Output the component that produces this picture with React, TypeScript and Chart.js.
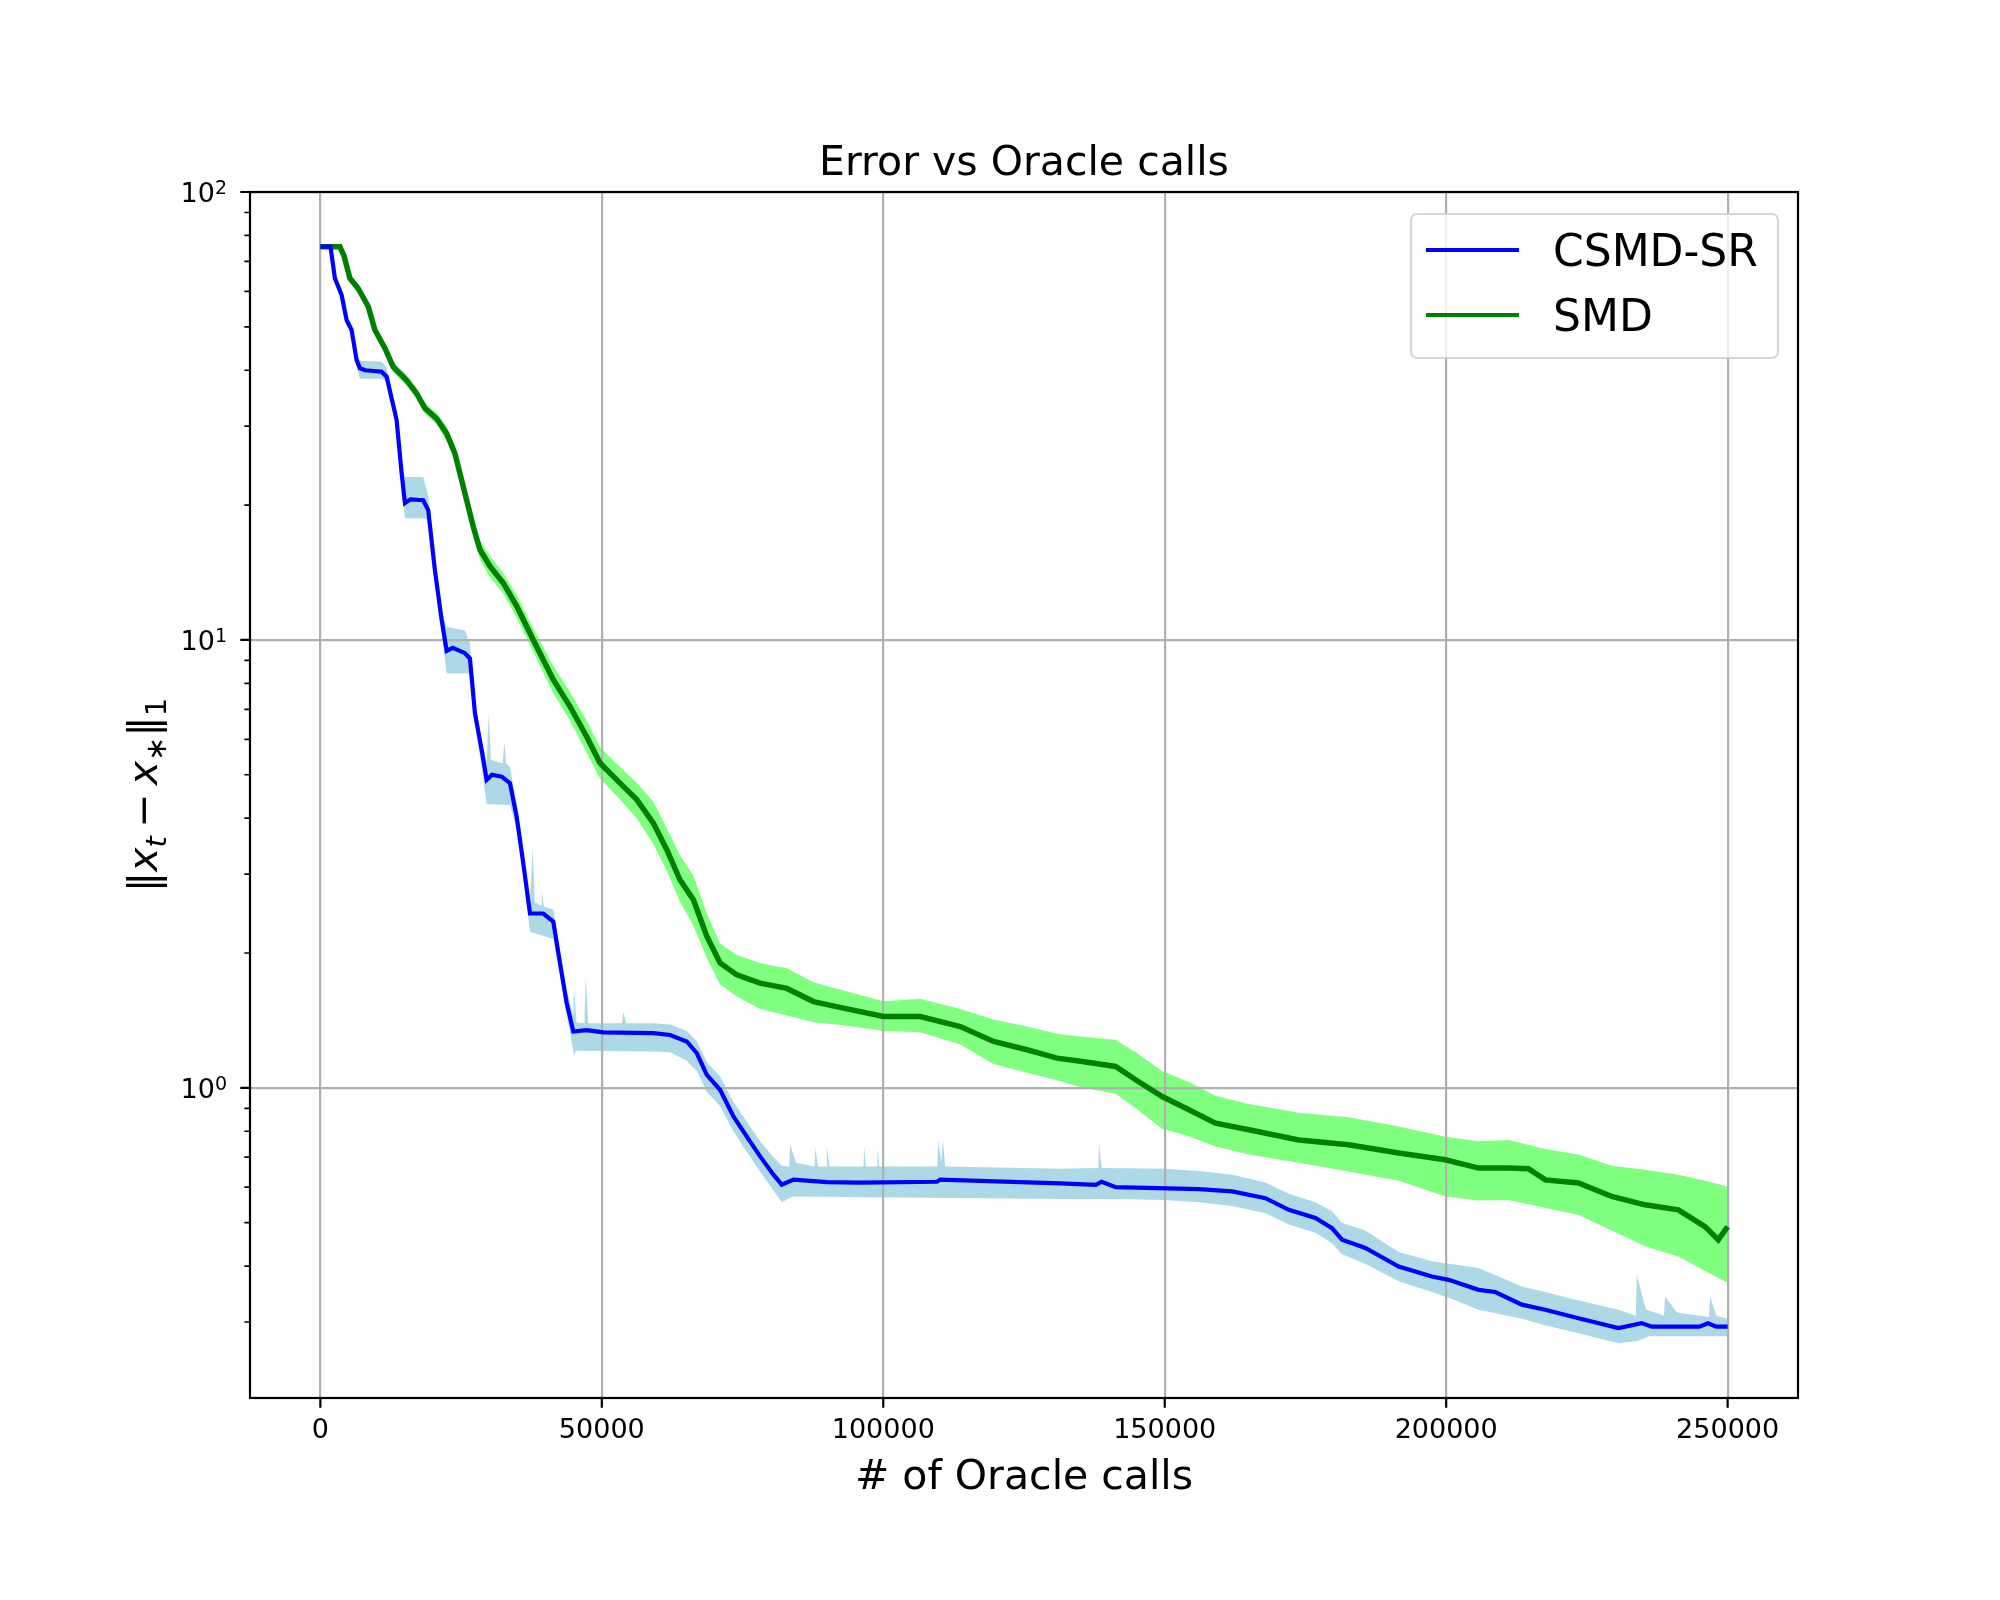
import React, { useEffect, useRef } from 'react';
import Chart from 'chart.js/auto';

// [oracle calls, ||x_t - x_*||_1]
const csmdMean: [number, number][] = [
  [0, 75.5], [1800, 75.5], [2580, 64.2], [3770, 58.9], [4660, 51.8], [5550, 49.2],
  [6430, 42.2], [7020, 40.4], [8000, 40.0], [10880, 39.7], [11770, 38.7], [13540, 31.0],
  [14430, 23.6], [15020, 20.2], [16000, 20.6], [18270, 20.5], [19160, 19.5], [20350, 14.3],
  [21540, 11.1], [22430, 9.45], [23500, 9.6], [25690, 9.34], [26570, 9.09], [27460, 6.86],
  [28650, 5.68], [29540, 4.87], [30500, 5.0], [32210, 4.95], [33680, 4.79], [34870, 4.03],
  [36050, 3.17], [37240, 2.45], [39600, 2.45], [41380, 2.35], [42570, 1.9], [43760, 1.545],
  [44940, 1.336], [47320, 1.345], [50270, 1.33], [59160, 1.325], [62120, 1.312], [65090, 1.269],
  [66870, 1.195], [68650, 1.069], [71010, 0.99], [73380, 0.863], [75760, 0.778], [78120, 0.703],
  [80490, 0.64], [81970, 0.608], [84040, 0.624], [89980, 0.616], [96000, 0.614], [109530, 0.617],
  [110120, 0.624], [120000, 0.618], [131450, 0.612], [137740, 0.607], [138800, 0.617], [141280, 0.6],
  [156070, 0.594], [161980, 0.587], [167900, 0.567], [172030, 0.534], [176770, 0.512], [179720, 0.486],
  [181490, 0.458], [185640, 0.439], [191560, 0.399], [197460, 0.379], [200440, 0.3726], [205760, 0.354],
  [208720, 0.35], [213450, 0.328], [217590, 0.3195], [223500, 0.306], [230600, 0.2907], [234730, 0.2983],
  [236500, 0.293], [245000, 0.293], [246500, 0.298], [248000, 0.293], [250000, 0.293],
];

const csmdUpper: [number, number][] = [
  [0, 75.5], [1800, 76.3], [2580, 65.5], [3770, 60.5], [4660, 53], [5550, 50.5], [6430, 43.5],
  [7020, 42], [10880, 41.8], [11770, 40.5], [13540, 32], [14430, 24.5], [15020, 23.1], [18270, 23.1],
  [19160, 21], [20350, 15], [21540, 11.6], [22430, 10.7], [25690, 10.5], [26570, 9.8], [27460, 7.2],
  [28650, 6.0], [29540, 5.31], [29900, 6.8], [30300, 5.4], [32400, 5.3], [32670, 5.93], [33000, 5.3],
  [33680, 5.2], [34870, 4.3], [36050, 3.35], [37240, 2.6], [37700, 3.43], [38100, 2.6], [39200, 2.55],
  [39320, 2.74], [39700, 2.54], [41380, 2.5], [42570, 2.02], [43760, 1.65], [44940, 1.45], [45060, 1.667],
  [45500, 1.4], [46900, 1.394], [47140, 1.757], [47600, 1.394], [53600, 1.394], [53820, 1.48],
  [54300, 1.394], [59160, 1.394], [62120, 1.385], [65090, 1.34], [66870, 1.27], [68650, 1.14],
  [71010, 1.06], [73380, 0.93], [75760, 0.84], [78120, 0.76], [80490, 0.7], [81970, 0.67],
  [83300, 0.667], [83450, 0.746], [84500, 0.68], [87800, 0.667], [87900, 0.737], [88400, 0.667],
  [89900, 0.667], [89980, 0.737], [90500, 0.667], [96500, 0.667], [96600, 0.74], [96900, 0.667],
  [98900, 0.667], [98970, 0.735], [99300, 0.667], [109600, 0.667], [109800, 0.766], [110300, 0.68],
  [110600, 0.766], [111000, 0.667], [131450, 0.66], [138200, 0.662], [138330, 0.752], [138800, 0.662],
  [150000, 0.66], [156070, 0.652], [161980, 0.64], [167900, 0.615], [172030, 0.58], [176770, 0.555],
  [179720, 0.53], [181490, 0.5], [185640, 0.48], [191560, 0.43], [197460, 0.41], [200440, 0.405],
  [205760, 0.396], [213450, 0.36], [217590, 0.35], [223500, 0.335], [230600, 0.3195], [233700, 0.31],
  [233850, 0.382], [235500, 0.32], [238700, 0.31], [238880, 0.342], [241000, 0.315], [246700, 0.308],
  [246870, 0.342], [248000, 0.31], [250000, 0.305],
];

const csmdLower: [number, number][] = [
  [0, 75.5], [1800, 74.7], [2580, 63], [3770, 57.5], [4660, 50.5], [5550, 48], [6430, 41],
  [7020, 38.3], [10880, 38.3], [11770, 37.8], [13540, 30], [14430, 22.5], [15020, 18.7], [18270, 18.7],
  [19160, 18.5], [20350, 13.8], [21540, 10.5], [22430, 8.43], [25690, 8.43], [26570, 8.4], [27460, 6.5],
  [28650, 5.2], [29540, 4.3], [33680, 4.28], [34870, 3.8], [36050, 3.0], [37240, 2.23], [41380, 2.15],
  [42570, 1.78], [43760, 1.45], [44940, 1.21], [45100, 1.18], [45400, 1.21], [59160, 1.205],
  [62120, 1.2], [65090, 1.15], [66870, 1.09], [68650, 0.98], [71010, 0.91], [73380, 0.8], [75760, 0.72],
  [78120, 0.65], [80490, 0.59], [81970, 0.555], [83000, 0.565], [84040, 0.572], [131450, 0.565],
  [141280, 0.565], [150000, 0.562], [156070, 0.555], [161980, 0.545], [167900, 0.525], [172030, 0.495],
  [176770, 0.475], [179720, 0.45], [181490, 0.425], [185640, 0.405], [191560, 0.37], [197460, 0.35],
  [200440, 0.34], [205760, 0.3195], [213450, 0.305], [217590, 0.295], [223500, 0.283], [230600, 0.269],
  [234000, 0.272], [236000, 0.279], [250000, 0.279],
];

const smdMean: [number, number][] = [
  [0, 75.5], [3466, 75.5], [4200, 72], [5240, 64.2], [6720, 60.9], [8500, 55.5], [9690, 49.2],
  [11470, 44.8], [12940, 40.7], [15320, 38.0], [17100, 35.5], [18580, 32.9], [20650, 31.2],
  [22430, 28.9], [23900, 26.1], [25380, 22.0], [27160, 17.9], [28350, 15.9], [30130, 14.6],
  [32490, 13.4], [34870, 11.9], [37830, 10.0], [41380, 8.15], [44350, 7.1], [47320, 6.08],
  [49680, 5.31], [53240, 4.79], [56200, 4.4], [59160, 3.9], [61540, 3.4], [63900, 2.91],
  [66270, 2.63], [68650, 2.18], [71010, 1.9], [73980, 1.787], [78120, 1.713], [82870, 1.667],
  [87600, 1.558], [92930, 1.506], [100040, 1.443], [106560, 1.443], [113670, 1.37], [119590, 1.269],
  [125520, 1.216], [130860, 1.165], [135360, 1.145], [141280, 1.116], [144830, 1.042], [149550, 0.956],
  [154290, 0.893], [159020, 0.834], [164940, 0.806], [173810, 0.765], [182680, 0.746], [191560, 0.715],
  [199850, 0.691], [205760, 0.662], [211080, 0.662], [214630, 0.66], [217590, 0.623], [223500, 0.613],
  [229410, 0.572], [235330, 0.548], [241240, 0.534], [245980, 0.49], [248330, 0.458], [250000, 0.49],
];

const smdUpper: [number, number][] = [
  [0, 75.5], [3466, 76.3], [4200, 73], [5240, 65.8], [6720, 62.3], [8500, 57], [9690, 50.5],
  [11470, 46], [12940, 41.8], [15320, 39], [17100, 36.5], [18580, 33.8], [20650, 32.1], [22430, 30],
  [23900, 27.2], [25380, 23], [27160, 18.8], [28350, 16.7], [30130, 15.4], [32490, 14.1], [34870, 12.6],
  [37830, 10.6], [41380, 8.75], [44350, 7.65], [47320, 6.6], [49680, 5.75], [53240, 5.2], [56200, 4.8],
  [59160, 4.35], [61540, 3.8], [63900, 3.3], [66270, 2.98], [68650, 2.45], [71010, 2.1], [73980, 1.98],
  [78120, 1.9], [82870, 1.85], [87600, 1.72], [92930, 1.65], [100040, 1.56], [106560, 1.58],
  [113670, 1.5], [119590, 1.42], [125520, 1.37], [130860, 1.32], [135360, 1.3], [141280, 1.28],
  [144830, 1.2], [149550, 1.09], [154290, 1.03], [159020, 0.96], [164940, 0.92], [173810, 0.88],
  [182680, 0.86], [191560, 0.82], [199850, 0.778], [205760, 0.76], [211080, 0.765], [217590, 0.73],
  [223500, 0.71], [229410, 0.67], [235330, 0.656], [241240, 0.64], [245980, 0.62], [250000, 0.602],
];

const smdLower: [number, number][] = [
  [0, 75.5], [3466, 74.7], [4200, 71], [5240, 62.6], [6720, 59.5], [8500, 54], [9690, 48],
  [11470, 43.6], [12940, 39.6], [15320, 37], [17100, 34.5], [18580, 32], [20650, 30.3], [22430, 27.8],
  [23900, 25], [25380, 21], [27160, 17], [28350, 15.1], [30130, 13.8], [32490, 12.7], [34870, 11.2],
  [37830, 9.4], [41380, 7.6], [44350, 6.6], [47320, 5.6], [49680, 4.9], [53240, 4.4], [56200, 4.0],
  [59160, 3.5], [61540, 3.05], [63900, 2.6], [66270, 2.3], [68650, 1.95], [71010, 1.7], [73980, 1.6],
  [78120, 1.5], [82870, 1.45], [87600, 1.4], [92930, 1.38], [100040, 1.34], [106560, 1.33],
  [113670, 1.25], [119590, 1.13], [125520, 1.08], [130860, 1.04], [135360, 1.0], [141280, 0.97],
  [144830, 0.9], [149550, 0.81], [154290, 0.78], [159020, 0.74], [164940, 0.71], [173810, 0.68],
  [182680, 0.65], [191560, 0.62], [199850, 0.572], [205760, 0.56], [211080, 0.562], [217590, 0.54],
  [223500, 0.52], [229410, 0.48], [235330, 0.443], [241240, 0.42], [245980, 0.39], [250000, 0.367],
];

const seriesNames = ['CSMD-SR', 'SMD'];
const xTickValues = [0, 50000, 100000, 150000, 200000, 250000];
const yTickValues = [
  0.3, 0.4, 0.5, 0.6, 0.7, 0.8, 0.9, 1, 2, 3, 4, 5, 6, 7, 8, 9,
  10, 20, 30, 40, 50, 60, 70, 80, 90, 100,
];
const yMajorTicks = [1, 10, 100];
const yMajorExponents = ['0', '1', '2'];

const FONT = '"DejaVu Sans"';
const LINE_COLORS = ['#0000ff', '#008000'];
const BAND_COLORS = ['#add8e6', '#80ff80'];

const pts = (arr: [number, number][]) => arr.map(([x, y]) => ({ x, y }));

// title, axis labels, tick marks, frame and legend, drawn like matplotlib does
const decorPlugin = {
  id: 'decor',
  afterDraw(chart: any) {
    const { ctx, chartArea: a, scales } = chart;
    ctx.save();
    ctx.strokeStyle = '#000';
    ctx.lineWidth = 2.2;
    ctx.beginPath();
    xTickValues.forEach((v) => {
      const px = scales.x.getPixelForValue(v);
      ctx.moveTo(px, a.bottom);
      ctx.lineTo(px, a.bottom + 9.7);
    });
    yMajorTicks.forEach((v) => {
      const py = scales.y.getPixelForValue(v);
      ctx.moveTo(a.left - 9.7, py);
      ctx.lineTo(a.left, py);
    });
    ctx.stroke();
    ctx.lineWidth = 1.7;
    ctx.beginPath();
    yTickValues.filter((v) => !yMajorTicks.includes(v)).forEach((v) => {
      const py = scales.y.getPixelForValue(v);
      ctx.moveTo(a.left - 5.6, py);
      ctx.lineTo(a.left, py);
    });
    ctx.stroke();

    ctx.lineWidth = 2.2;
    ctx.strokeRect(a.left, a.top, a.right - a.left, a.bottom - a.top);

    // y tick labels 10^k
    ctx.fillStyle = '#000';
    ctx.textAlign = 'right';
    ctx.textBaseline = 'alphabetic';
    yMajorTicks.forEach((v, i) => {
      const py = scales.y.getPixelForValue(v);
      const right = a.left - 23;
      ctx.font = `19px ${FONT}`;
      const ew = ctx.measureText(yMajorExponents[i]).width;
      ctx.fillText(yMajorExponents[i], right, py + 2);
      ctx.font = `27px ${FONT}`;
      ctx.fillText('10', right - ew, py + 10);
    });

    ctx.textAlign = 'center';
    ctx.font = `41px ${FONT}`;
    const cx = (a.left + a.right) / 2;
    ctx.fillText('Error vs Oracle calls', cx, a.top - 17);
    ctx.fillText('# of Oracle calls', cx, a.bottom + 91);

    // y label: ||x_t - x_*||_1
    const parts = [
      { t: '‖', f: `41px ${FONT}`, dy: 0 },
      { t: 'x', f: `italic 41px ${FONT}`, dy: 0 },
      { t: 't', f: `italic 29px ${FONT}`, dy: 9 },
      { t: '\u2009−\u2009', f: `41px ${FONT}`, dy: 0 },
      { t: 'x', f: `italic 41px ${FONT}`, dy: 0 },
      { t: '∗', f: `29px ${FONT}`, dy: 9 },
      { t: '‖', f: `41px ${FONT}`, dy: 0 },
      { t: '1', f: `29px ${FONT}`, dy: 9 },
    ];
    let total = 0;
    parts.forEach((p) => {
      ctx.font = p.f;
      total += ctx.measureText(p.t).width;
    });
    ctx.save();
    ctx.translate(157, (a.top + a.bottom) / 2);
    ctx.rotate(-Math.PI / 2);
    ctx.textAlign = 'left';
    let x = -total / 2;
    parts.forEach((p) => {
      ctx.font = p.f;
      ctx.fillText(p.t, x, p.dy);
      x += ctx.measureText(p.t).width;
    });
    ctx.restore();

    // legend
    const lx = 1411;
    const ly = 214;
    ctx.beginPath();
    ctx.roundRect(lx, ly, 367, 144, 6);
    ctx.fillStyle = 'rgba(255,255,255,0.8)';
    ctx.fill();
    ctx.strokeStyle = 'rgba(204,204,204,0.8)';
    ctx.lineWidth = 2.2;
    ctx.stroke();
    ctx.font = `44px ${FONT}`;
    ctx.textAlign = 'left';
    seriesNames.forEach((name, i) => {
      const y = 250 + i * 65;
      ctx.strokeStyle = LINE_COLORS[i];
      ctx.lineWidth = 4.2;
      ctx.beginPath();
      ctx.moveTo(1426, y);
      ctx.lineTo(1519, y);
      ctx.stroke();
      ctx.fillStyle = '#000';
      ctx.fillText(name, 1553, y + 16);
    });
    ctx.restore();
  },
};

const App: React.FC = () => {
  const canvasRef = useRef<HTMLCanvasElement>(null);
  const chartRef = useRef<Chart | null>(null);

  useEffect(() => {
    if (!canvasRef.current) return;
    if (chartRef.current) chartRef.current.destroy();

    Chart.defaults.font.family = 'DejaVu Sans';
    Chart.defaults.color = '#000';

    const band = (data: [number, number][], color: string, fillTo: number | false) => ({
      data: pts(data),
      borderColor: 'rgba(0,0,0,0)',
      borderWidth: 0,
      backgroundColor: color,
      pointRadius: 0,
      fill: fillTo,
      tension: 0,
    });

    chartRef.current = new Chart(canvasRef.current, {
      type: 'line',
      data: {
        datasets: [
          {
            label: seriesNames[0],
            data: pts(csmdMean),
            borderColor: LINE_COLORS[0],
            borderWidth: 4.2,
            pointRadius: 0,
            fill: false,
            tension: 0,
          },
          {
            label: seriesNames[1],
            data: pts(smdMean),
            borderColor: LINE_COLORS[1],
            borderWidth: 5.5,
            pointRadius: 0,
            fill: false,
            tension: 0,
          },
          band(csmdLower, BAND_COLORS[0], false),
          band(csmdUpper, BAND_COLORS[0], 2),
          band(smdLower, BAND_COLORS[1], false),
          band(smdUpper, BAND_COLORS[1], 4),
        ] as any,
      },
      options: {
        animation: false,
        responsive: false,
        devicePixelRatio: 1,
        events: [],
        layout: { padding: { left: 0, top: 192, right: 202, bottom: 0 } },
        plugins: {
          legend: { display: false },
          tooltip: { enabled: false },
          filler: { drawTime: 'beforeDraw' },
        } as any,
        scales: {
          x: {
            type: 'linear',
            min: -12500,
            max: 262500,
            afterBuildTicks: (s: any) => {
              s.ticks = xTickValues.map((value) => ({ value }));
            },
            afterFit: (s: any) => {
              s.height = 202;
            },
            ticks: {
              callback: (v: any) => String(v),
              font: { size: 27 },
              padding: 17,
              maxRotation: 0,
              autoSkip: false,
            },
            grid: { color: '#b0b0b0', lineWidth: 2.2, drawTicks: false },
            border: { display: false },
          },
          y: {
            type: 'logarithmic',
            min: 0.203,
            max: 100,
            afterBuildTicks: (s: any) => {
              s.ticks = yTickValues.map((value) => ({ value }));
            },
            afterFit: (s: any) => {
              s.width = 250;
            },
            ticks: { display: false, autoSkip: false },
            grid: {
              color: (c: any) => (yMajorTicks.includes(c.tick?.value) ? '#b0b0b0' : 'rgba(0,0,0,0)'),
              lineWidth: 2.2,
              drawTicks: false,
            },
            border: { display: false },
          },
        },
      },
      plugins: [decorPlugin],
    });

    return () => {
      if (chartRef.current) {
        chartRef.current.destroy();
        chartRef.current = null;
      }
    };
  }, []);

  return (
    <div style={{ position: 'absolute', left: 0, top: 0, width: 2000, height: 1600, background: '#fff' }}>
      <canvas ref={canvasRef} width={2000} height={1600} style={{ display: 'block', width: 2000, height: 1600 }} />
    </div>
  );
};

export default App;
